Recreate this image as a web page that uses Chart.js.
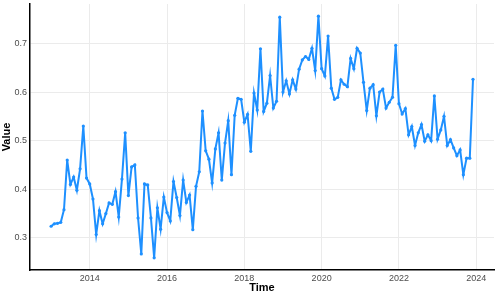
<!DOCTYPE html>
<html>
<head>
<meta charset="utf-8">
<script src="https://cdn.jsdelivr.net/npm/chart.js@4"></script>
<style>
  html, body { margin: 0; padding: 0; background: #fff; }
  #wrap { width: 498px; height: 295px; }
</style>
</head>
<body>
<div id="wrap"><canvas id="chart"></canvas></div>
<script>
// monthly series, Jan 2013 .. Dec 2023
const startYear = 2013;
const values = [
  0.324, 0.329, 0.330, 0.332, 0.358, 0.460, 0.410, 0.425, 0.398, 0.442, 0.530, 0.423, // 2013
  0.411, 0.380, 0.307, 0.356, 0.329, 0.350, 0.372, 0.369, 0.395, 0.343, 0.421, 0.516, // 2014
  0.387, 0.446, 0.450, 0.341, 0.267, 0.411, 0.409, 0.341, 0.259, 0.362, 0.318, 0.384, // 2015
  0.352, 0.335, 0.416, 0.383, 0.346, 0.419, 0.373, 0.388, 0.317, 0.406, 0.436, 0.561, // 2016
  0.479, 0.462, 0.413, 0.483, 0.516, 0.419, 0.495, 0.541, 0.430, 0.552, 0.587, 0.585, // 2017
  0.538, 0.554, 0.478, 0.598, 0.563, 0.689, 0.560, 0.577, 0.634, 0.567, 0.581, 0.754, // 2018
  0.600, 0.623, 0.596, 0.625, 0.606, 0.647, 0.666, 0.673, 0.667, 0.690, 0.644, 0.756, // 2019
  0.648, 0.633, 0.715, 0.608, 0.585, 0.589, 0.625, 0.616, 0.611, 0.669, 0.648, 0.690, // 2020
  0.680, 0.620, 0.562, 0.608, 0.615, 0.551, 0.600, 0.606, 0.567, 0.579, 0.589, 0.696, // 2021
  0.576, 0.555, 0.566, 0.512, 0.529, 0.490, 0.516, 0.533, 0.499, 0.512, 0.500, 0.592, // 2022
  0.503, 0.522, 0.550, 0.490, 0.502, 0.485, 0.469, 0.481, 0.430, 0.464, 0.464, 0.626  // 2023
];
const xTicks = [2014, 2016, 2018, 2020, 2022, 2024];
const yTicks = [0.3, 0.4, 0.5, 0.6, 0.7];

const points = values.map((v, i) => ({ x: startYear + i / 12, y: v }));

new Chart(document.getElementById("chart"), {
  type: "line",
  data: {
    datasets: [{
      data: points,
      borderColor: "#1E90FF",
      backgroundColor: "#1E90FF",
      borderWidth: 2,
      pointRadius: 1.6,
      pointBorderWidth: 0,
      tension: 0,
      fill: false,
    }],
  },
  options: {
    responsive: true,
    maintainAspectRatio: false,
    animation: false,
    layout: { padding: { top: 2, right: 4, left: 0, bottom: 0 } },
    plugins: { legend: { display: false }, tooltip: { enabled: false } },
    scales: {
      x: {
        type: "linear",
        min: 2012.454,
        max: 2024.46,
        afterBuildTicks: (s) => { s.ticks = xTicks.map((v) => ({ value: v })); },
        afterFit: (s) => { s.height = 25; s.paddingLeft = 0; s.paddingRight = 0; },
        grid: { color: "#ebebeb", lineWidth: 1, drawTicks: false },
        border: { display: true, color: "#000", width: 1.5 },
        ticks: {
          padding: 3,
          color: "#4d4d4d",
          font: { family: "Liberation Sans", size: 9 },
          callback: (v) => String(v),
        },
        title: {
          display: true,
          text: "Time",
          color: "#000",
          font: { family: "Liberation Sans", size: 11, weight: "bold" },
          padding: { top: 0, bottom: 0 },
        },
      },
      y: {
        min: 0.234,
        max: 0.781,
        afterBuildTicks: (s) => { s.ticks = yTicks.map((v) => ({ value: v })); },
        afterFit: (s) => { s.width = 30; s.paddingTop = 0; s.paddingBottom = 0; },
        grid: { color: "#ebebeb", lineWidth: 1, drawTicks: false },
        border: { display: true, color: "#000", width: 1.5 },
        ticks: {
          padding: 3,
          color: "#4d4d4d",
          font: { family: "Liberation Sans", size: 9 },
          callback: (v) => String(v),
        },
        title: {
          display: true,
          text: "Value",
          color: "#000",
          font: { family: "Liberation Sans", size: 11, weight: "bold" },
          padding: { top: 0, bottom: 0 },
        },
      },
    },
  },
});
</script>
</body>
</html>
